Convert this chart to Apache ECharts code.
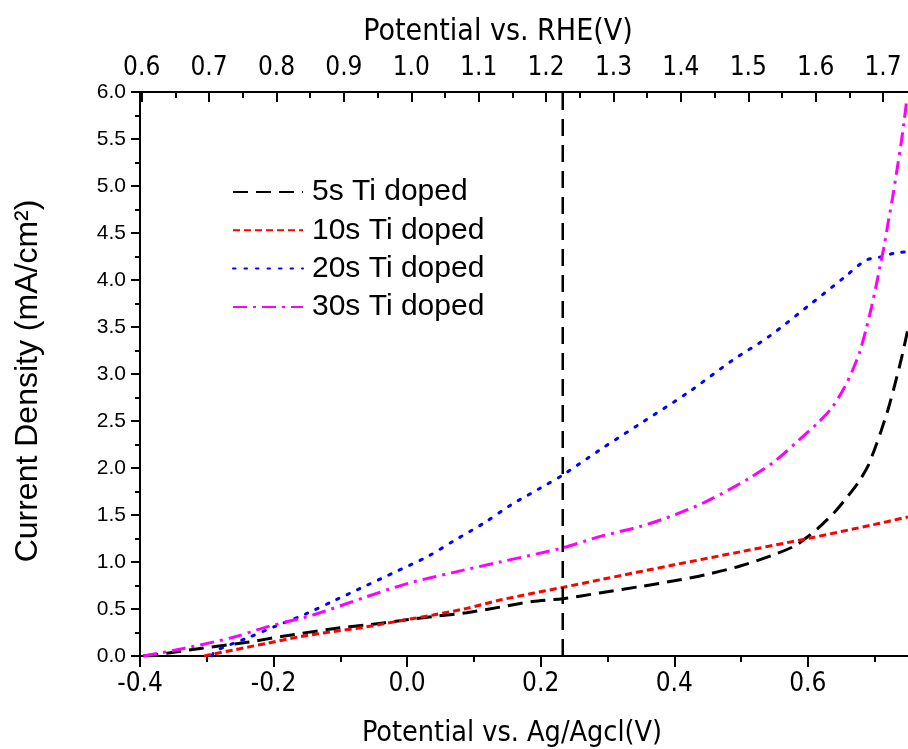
<!DOCTYPE html>
<html>
<head>
<meta charset="utf-8">
<script src="https://cdn.jsdelivr.net/npm/echarts@6/dist/echarts.min.js"></script>
<style>
  html, body { margin: 0; padding: 0; background: #fff; }
  #chart { width: 908px; height: 749px; }
</style>
</head>
<body>
<div id="chart"></div>
<script>
// Potential (V vs Ag/AgCl) and current density (mA/cm2) for each doping time
const seriesNames = ['5s Ti doped', '10s Ti doped', '20s Ti doped', '30s Ti doped'];

const ti5s = [
  [-0.395, 0], [-0.36, 0.03], [-0.31, 0.08], [-0.236, 0.15], [-0.186, 0.21],
  [-0.111, 0.29], [-0.061, 0.33], [-0.011, 0.375], [0.039, 0.42], [0.089, 0.46],
  [0.139, 0.52], [0.188, 0.58], [0.233, 0.61], [0.288, 0.67], [0.35, 0.74],
  [0.4, 0.80], [0.45, 0.87], [0.5, 0.96], [0.55, 1.08], [0.58, 1.17],
  [0.6, 1.27], [0.62, 1.39], [0.64, 1.53], [0.66, 1.70], [0.675, 1.84],
  [0.69, 2.02], [0.70, 2.20], [0.71, 2.40], [0.72, 2.62], [0.73, 2.88],
  [0.74, 3.16], [0.75, 3.48]
];

const ti10s = [
  [-0.304, 0], [-0.26, 0.064], [-0.21, 0.135], [-0.161, 0.205], [-0.111, 0.26],
  [-0.061, 0.31], [-0.011, 0.375], [0.039, 0.436], [0.089, 0.507], [0.139, 0.595],
  [0.188, 0.667], [0.233, 0.73], [0.288, 0.81], [0.4, 0.97], [0.5, 1.11],
  [0.6, 1.25], [0.7, 1.40], [0.75, 1.48]
];

const ti20s = [
  [-0.292, 0], [-0.288, 0.05], [-0.24, 0.19], [-0.196, 0.32], [-0.151, 0.45],
  [-0.106, 0.60], [-0.061, 0.75], [-0.016, 0.90], [0.031, 1.06], [0.071, 1.23],
  [0.114, 1.41], [0.156, 1.61], [0.198, 1.78], [0.234, 1.93], [0.288, 2.19],
  [0.353, 2.49], [0.42, 2.80], [0.488, 3.15], [0.542, 3.40], [0.607, 3.76],
  [0.655, 4.03], [0.687, 4.21], [0.712, 4.25], [0.732, 4.29], [0.75, 4.30]
];

const ti30s = [
  [-0.395, 0], [-0.335, 0.08], [-0.26, 0.20], [-0.21, 0.31], [-0.141, 0.436],
  [-0.061, 0.63], [0.0, 0.77], [0.07, 0.89], [0.139, 1.00], [0.233, 1.15],
  [0.288, 1.27], [0.35, 1.38], [0.4, 1.50], [0.45, 1.65], [0.512, 1.89],
  [0.55, 2.07], [0.587, 2.30], [0.615, 2.48], [0.637, 2.65], [0.655, 2.86],
  [0.667, 3.04], [0.678, 3.24], [0.687, 3.47], [0.695, 3.70], [0.702, 3.93],
  [0.708, 4.14], [0.714, 4.35], [0.72, 4.60], [0.727, 4.88], [0.733, 5.15],
  [0.739, 5.42], [0.744, 5.68], [0.748, 5.91]
];

// 1.23 V vs RHE expressed on the Ag/AgCl scale
const rheLine = [[0.233, 0], [0.233, 6]];

// Axis ranges and tick values
const agRange = [-0.4, 0.75];
const rheRange = [0.5975, 1.737];
const agMajor = [-0.4, -0.2, 0.0, 0.2, 0.4, 0.6];
const agMinor = [-0.3, -0.1, 0.1, 0.3, 0.5, 0.7];
const rheMajor = [0.6, 0.7, 0.8, 0.9, 1.0, 1.1, 1.2, 1.3, 1.4, 1.5, 1.6, 1.7];
const rheMinor = [0.65, 0.75, 0.85, 0.95, 1.05, 1.15, 1.25, 1.35, 1.45, 1.55, 1.65];
const yRange = [0, 6];

const narrow = "'Liberation Sans Narrow', 'Arial Narrow', 'DejaVu Sans Condensed', 'Liberation Sans', sans-serif";
const sans = "'Liberation Sans', Arial, sans-serif";

const chart = echarts.init(document.getElementById('chart'), null, { renderer: 'canvas' });

const axisLine = { show: true, onZero: false, lineStyle: { color: '#000', width: 2 } };
const fmt1 = v => Number(v).toFixed(1);
const tickStyle = { color: '#000', width: 2 };
const smooth = 0.3;

chart.setOption({
  animation: false,
  backgroundColor: '#fff',
  grid: { left: 140, right: 0, top: 92, bottom: 93, containLabel: false, outerBoundsMode: 'none' },
  legend: {
    data: seriesNames,
    orient: 'vertical',
    left: 232,
    top: 177,
    padding: 0,
    itemWidth: 70,
    itemHeight: 14,
    itemGap: 8.3,
    itemStyle: { opacity: 0 },
    textStyle: { fontFamily: sans, fontSize: 30, lineHeight: 30, color: '#000', padding: [0, 0, 0, 4] }
  },
  xAxis: [
    {
      type: 'value', position: 'bottom', min: agRange[0], max: agRange[1],
      name: 'Potential vs. Ag/Agcl(V)', nameLocation: 'middle', nameGap: 63,
      nameTextStyle: { fontFamily: narrow, fontSize: 28.5, color: '#000', padding: [0, 24, 0, 0] },
      axisLine,
      axisTick: { show: true, inside: false, length: 11, customValues: agMajor, lineStyle: tickStyle },
      axisLabel: { show: true, customValues: agMajor, formatter: fmt1, margin: 15, fontFamily: narrow, fontSize: 26, color: '#000' },
      splitLine: { show: false }
    },
    {
      type: 'value', position: 'top', min: rheRange[0], max: rheRange[1],
      name: 'Potential vs. RHE(V)', nameLocation: 'middle', nameGap: 45,
      nameTextStyle: { fontFamily: narrow, fontSize: 30, color: '#000', padding: [0, 52, 0, 0] },
      axisLine,
      axisTick: { show: true, inside: true, length: 10, customValues: rheMajor, lineStyle: tickStyle },
      axisLabel: { show: true, customValues: rheMajor, formatter: fmt1, margin: 11, fontFamily: narrow, fontSize: 26, color: '#000' },
      splitLine: { show: false }
    },
    {
      type: 'value', position: 'bottom', min: agRange[0], max: agRange[1],
      axisLine: { show: false, onZero: false },
      axisTick: { show: true, inside: false, length: 6, customValues: agMinor, lineStyle: tickStyle },
      axisLabel: { show: false },
      splitLine: { show: false }
    },
    {
      type: 'value', position: 'top', min: rheRange[0], max: rheRange[1],
      axisLine: { show: false, onZero: false },
      axisTick: { show: true, inside: true, length: 6, customValues: rheMinor, lineStyle: tickStyle },
      axisLabel: { show: false },
      splitLine: { show: false }
    }
  ],
  yAxis: [
    {
      type: 'value', position: 'left', min: yRange[0], max: yRange[1], interval: 0.5,
      name: 'Current Density (mA/cm²)', nameLocation: 'middle', nameGap: 96,
      nameTextStyle: { fontFamily: sans, fontSize: 32, color: '#000', padding: [0, 14, 0, 0] },
      axisLine,
      axisTick: { show: true, inside: false, length: 9, lineStyle: tickStyle },
      minorTick: { show: true, splitNumber: 2, length: 5, lineStyle: tickStyle },
      axisLabel: { formatter: fmt1, margin: 14, fontFamily: sans, fontSize: 21, color: '#000' },
      splitLine: { show: false }
    }
  ],
  series: [
    {
      name: seriesNames[0], type: 'line', data: ti5s, symbol: 'none', smooth,
      lineStyle: { color: '#000', width: 3, type: [15, 8] }, itemStyle: { color: '#000' }
    },
    {
      name: seriesNames[1], type: 'line', data: ti10s, symbol: 'none', smooth,
      lineStyle: { color: '#ff0000', width: 3, type: [7, 4] }, itemStyle: { color: '#ff0000' }
    },
    {
      name: seriesNames[2], type: 'line', data: ti20s, symbol: 'none', smooth,
      lineStyle: { color: '#0000ff', width: 3, type: [2.5, 9], cap: 'round' }, itemStyle: { color: '#0000ff' }
    },
    {
      name: seriesNames[3], type: 'line', data: ti30s, symbol: 'none', smooth,
      lineStyle: { color: '#ff00ff', width: 3, type: [14, 6, 3, 6] }, itemStyle: { color: '#ff00ff' }
    },
    {
      name: 'RHE 1.23 V', type: 'line', data: rheLine, symbol: 'none',
      lineStyle: { color: '#000', width: 2.5, type: [17, 9] }, silent: true
    }
  ]
});
</script>
</body>
</html>
